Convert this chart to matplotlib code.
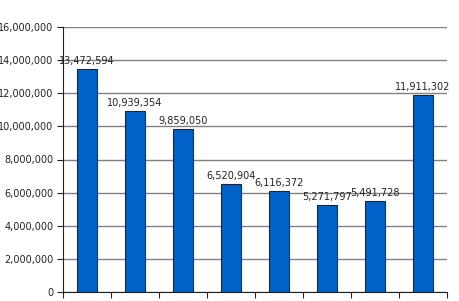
import matplotlib.pyplot as plt
import numpy as np
from matplotlib.ticker import FuncFormatter

values = [13472594, 10939354, 9859050, 6520904, 6116372, 5271797, 5491728, 11911302]
labels = ['13,472,594', '10,939,354', '9,859,050', '6,520,904',
          '6,116,372', '5,271,797', '5,491,728', '11,911,302']

fig = plt.figure(figsize=(4.6, 3.01), dpi=100)
ax = fig.add_axes([63 / 460, 9 / 301, 384 / 460, 265 / 301])

x = np.arange(len(values))
ax.bar(x, values, width=0.4, color='#0062c8', edgecolor='#0a2a55', linewidth=0.8, zorder=3)

for xi, v, s in zip(x, values, labels):
    ax.annotate(s, (xi, v), xytext=(0, 2), textcoords='offset points',
                ha='center', va='bottom', fontsize=7, color='#222222', zorder=4)

ax.set_xlim(-0.5, len(values) - 0.5)
ax.set_ylim(0, 16000000)
ax.set_yticks(np.arange(0, 16000001, 2000000))
ax.yaxis.set_major_formatter(FuncFormatter(lambda v, p: f'{int(v):,}'))
ax.set_xticks(np.arange(-0.5, len(values), 1))
ax.set_xticklabels([])
ax.tick_params(axis='y', labelsize=7, length=4, width=0.8, colors='#222222', pad=3)
ax.tick_params(axis='x', length=4, width=0.8, colors='#222222')
ax.grid(axis='y', color='#808080', linewidth=1, zorder=0)

for side in ['top', 'right']:
    ax.spines[side].set_visible(False)
for side in ['left', 'bottom']:
    ax.spines[side].set_linewidth(0.8)
    ax.spines[side].set_color('#222222')

fig.savefig('out.png', dpi=100)
